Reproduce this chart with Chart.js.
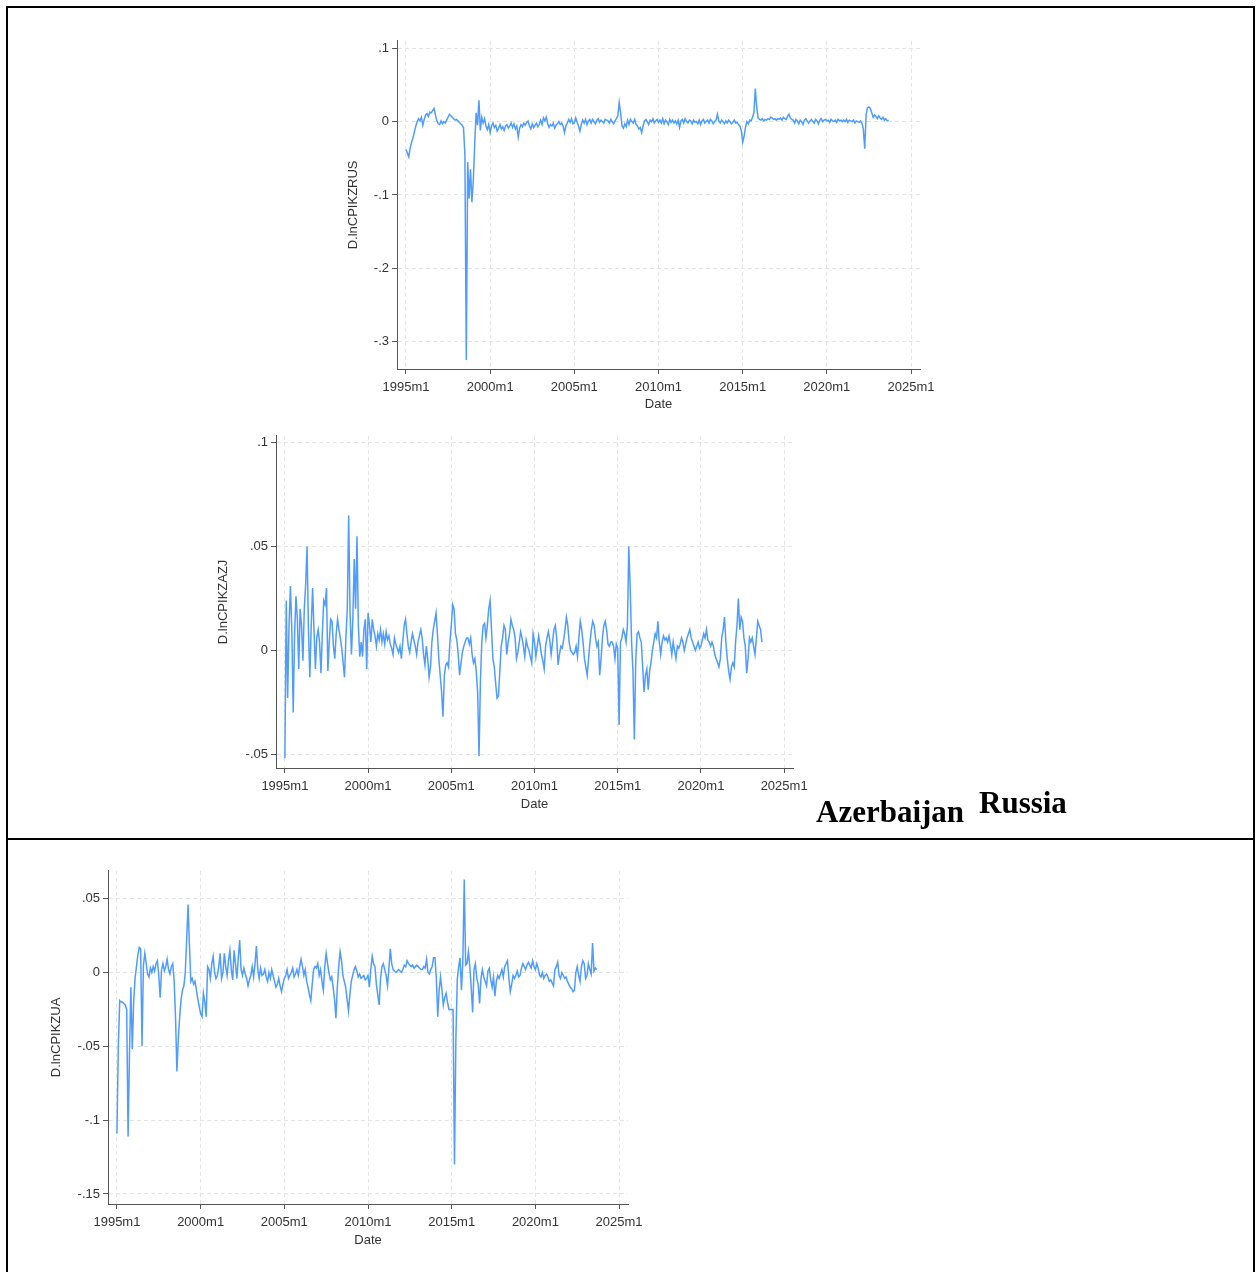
<!DOCTYPE html>
<html>
<head>
<meta charset="utf-8">
<script src="https://cdn.jsdelivr.net/npm/chart.js@4.4.1/dist/chart.umd.min.js"></script>
<style>
body { margin: 0; background: #fff; width: 1257px; height: 1272px; position: relative; overflow: hidden; }
.frame { position: absolute; left: 6px; top: 6px; width: 1245px; height: 1290px; border: 2px solid #000; border-bottom: none; }
.rule { position: absolute; left: 6px; top: 838px; width: 1249px; height: 2px; background: #000; }
.box { position: absolute; }
.lbl { position: absolute; font-family: "Liberation Serif", "Times New Roman", serif; font-weight: bold; font-size: 31px; line-height: 1; color: #000; white-space: nowrap; }
</style>
</head>
<body>
<div class="frame"></div>
<div class="rule"></div>
<canvas id="cRus" class="box" width="620" height="390" style="left:330px;top:30px"></canvas>
<canvas id="cAzj" class="box" width="618" height="395" style="left:205px;top:425px"></canvas>
<canvas id="cUa" class="box" width="618" height="396" style="left:40px;top:860px"></canvas>
<div class="lbl" style="left:816px;top:796px">Azerbaijan</div>
<div class="lbl" style="left:979px;top:787px">Russia</div>

<script>
// x axis: months since 1995m1
const tickMonths = [0, 60, 120, 180, 240, 300, 360];
const tickLabels = ['1995m1', '2000m1', '2005m1', '2010m1', '2015m1', '2020m1', '2025m1'];

// D.lnCPIKZRUS, monthly 1995m1..2023m9
const rusY = [
  -0.038,-0.043,-0.048,-0.036,-0.028,-0.022,-0.014,-0.006,0.000,0.004,0.001,0.006,
  -0.005,0.003,0.009,0.011,0.007,0.013,0.012,0.015,0.018,0.009,0.001,-0.003,
  -0.004,0.001,-0.003,0.000,-0.002,0.002,0.006,0.010,0.008,0.006,0.004,0.002,
  0.003,0.001,-0.001,-0.003,-0.005,-0.008,-0.045,-0.325,-0.055,-0.105,-0.065,-0.110,
  -0.080,-0.030,0.012,-0.005,0.029,-0.012,0.006,-0.002,0.004,-0.006,-0.011,-0.004,
  -0.015,-0.006,-0.002,-0.008,-0.005,-0.013,-0.009,-0.004,-0.010,-0.007,-0.012,-0.006,
  -0.004,-0.009,-0.006,-0.002,-0.008,-0.003,-0.010,-0.006,-0.021,-0.009,-0.004,-0.007,
  -0.002,-0.005,-0.001,0.001,-0.006,-0.010,-0.003,-0.008,-0.005,-0.002,-0.007,-0.004,
  0.002,-0.004,0.005,0.001,0.006,-0.003,-0.008,-0.004,-0.006,-0.002,-0.009,-0.005,
  -0.003,0.000,-0.004,-0.002,-0.006,-0.015,-0.006,-0.002,0.003,-0.001,0.004,-0.003,
  -0.002,0.005,-0.001,-0.006,-0.013,-0.004,0.002,-0.002,0.003,-0.004,0.001,0.003,
  -0.002,0.003,0.000,-0.003,0.002,0.004,-0.001,0.002,0.000,-0.002,0.003,0.002,
  0.001,-0.002,0.003,0.000,-0.003,0.001,0.004,0.008,0.026,0.012,-0.006,-0.009,
  -0.003,-0.007,0.002,-0.004,0.003,0.000,-0.002,0.003,-0.004,-0.006,-0.010,-0.008,
  -0.015,-0.006,0.001,0.003,0.000,-0.004,0.002,0.000,0.004,-0.002,0.001,0.003,
  -0.001,0.002,-0.002,0.004,-0.003,0.002,0.000,-0.004,0.003,-0.001,0.002,-0.002,
  0.001,-0.003,0.002,-0.008,0.001,0.003,-0.002,0.004,0.000,-0.002,0.002,0.001,
  -0.003,0.002,-0.001,0.000,-0.003,0.002,-0.004,0.001,0.003,-0.002,0.000,0.002,
  -0.002,0.003,0.001,-0.003,0.000,0.002,0.010,0.001,-0.002,0.002,0.000,-0.003,
  0.001,-0.002,0.002,0.000,-0.003,-0.001,0.002,-0.002,-0.001,-0.004,-0.006,-0.012,
  -0.028,-0.020,-0.008,0.000,-0.003,0.002,0.001,0.006,0.012,0.045,0.020,0.005,
  0.003,0.002,0.004,0.001,0.003,0.002,0.004,0.003,0.006,0.005,0.003,0.004,
  0.002,0.004,0.003,0.005,0.002,0.006,0.004,0.003,0.007,0.010,0.005,0.003,
  0.002,-0.002,0.003,0.001,-0.003,0.002,0.000,-0.004,0.002,0.004,0.001,-0.002,
  0.001,0.003,0.000,-0.002,0.003,0.001,-0.003,0.002,0.004,0.000,0.002,0.003,
  0.001,0.002,-0.001,0.003,0.001,0.000,0.002,-0.001,0.003,0.001,0.002,0.000,
  0.002,0.000,0.003,-0.001,0.002,0.001,0.000,0.002,-0.002,0.001,0.000,-0.001,
  0.001,-0.002,-0.010,-0.037,0.010,0.019,0.020,0.018,0.012,0.006,0.009,0.007,
  0.004,0.008,0.005,0.003,0.006,0.002,0.004,0.001,0.002
];

// D.lnCPIKZAZJ
const azjY = [
  -0.052,0.024,-0.023,0.012,0.031,0.010,-0.030,0.008,0.026,0.015,-0.009,0.020,
  0.012,-0.005,0.020,0.032,0.050,0.010,-0.013,0.012,0.030,0.010,-0.009,0.006,
  0.010,0.004,-0.011,0.008,0.024,0.022,0.030,-0.010,0.004,0.015,0.014,0.002,
  -0.004,0.008,0.015,0.010,0.006,0.001,-0.006,-0.013,0.006,0.020,0.065,0.018,
  -0.002,0.015,0.044,0.020,0.055,0.012,-0.003,0.004,-0.003,0.010,0.015,-0.009,
  0.018,0.012,0.004,0.015,0.010,0.007,0.002,0.008,0.005,0.010,0.004,0.008,
  0.003,0.009,0.005,0.007,0.003,0.001,-0.002,0.006,0.003,0.001,-0.001,0.002,
  -0.004,0.004,0.012,0.015,0.008,0.002,-0.001,0.004,0.008,0.005,0.002,-0.002,
  0.004,0.007,0.010,0.006,-0.002,-0.007,0.002,-0.004,-0.013,-0.008,0.004,0.010,
  0.014,0.018,0.008,-0.004,-0.012,-0.020,-0.032,-0.012,-0.007,-0.006,-0.008,0.004,
  0.012,0.022,0.020,0.008,0.005,-0.002,-0.012,-0.006,-0.001,0.002,0.004,0.006,
  0.006,0.003,0.006,-0.002,-0.006,-0.004,-0.010,-0.020,-0.051,-0.015,0.004,0.012,
  0.013,0.006,0.012,0.020,0.024,0.010,-0.004,-0.008,-0.016,-0.023,-0.022,-0.010,
  0.002,0.006,0.012,0.010,-0.002,0.004,0.008,0.015,0.012,0.010,0.006,-0.004,
  -0.001,0.004,0.009,0.006,0.002,-0.003,0.005,0.002,0.000,-0.003,-0.006,0.008,
  0.004,-0.003,0.002,0.007,0.003,-0.002,-0.005,-0.009,0.002,0.006,0.009,0.005,
  -0.002,0.004,0.010,0.012,0.006,-0.007,-0.002,0.002,0.001,0.005,0.010,0.016,
  0.012,0.004,0.000,-0.001,-0.002,-0.001,0.002,-0.003,0.006,0.014,0.010,0.004,
  -0.004,-0.008,-0.012,-0.004,0.004,0.010,0.014,0.012,0.006,0.002,0.004,-0.012,
  -0.004,0.006,0.012,0.014,0.010,0.003,0.002,0.004,0.004,0.002,-0.004,0.003,
  0.001,-0.036,0.004,0.006,0.010,0.008,0.004,0.012,0.050,0.030,0.004,-0.010,
  -0.043,-0.005,0.008,0.009,0.006,0.004,-0.008,-0.020,-0.012,-0.009,-0.019,-0.010,
  -0.006,0.000,0.004,0.008,0.006,0.014,0.004,-0.002,0.004,0.007,0.005,0.006,
  0.004,0.007,0.003,-0.002,0.004,0.000,-0.004,0.002,0.001,0.003,0.006,0.004,
  0.000,0.003,0.006,0.008,0.010,0.006,0.004,0.002,0.000,0.002,0.004,0.001,
  0.002,0.005,0.008,0.006,0.010,0.005,0.004,0.002,0.004,0.002,-0.002,-0.004,
  -0.006,-0.008,-0.004,0.006,0.010,0.016,0.004,-0.004,-0.010,-0.014,-0.008,-0.006,
  -0.008,0.004,0.012,0.025,0.010,0.016,0.014,0.006,0.002,-0.011,-0.004,0.006,
  0.004,0.006,0.002,-0.002,0.006,0.014,0.012,0.010,0.004
];

// D.lnCPIKZUA
const uaY = [
  -0.109,-0.050,-0.019,-0.020,-0.020,-0.021,-0.022,-0.025,-0.111,-0.055,-0.010,-0.052,
  -0.020,-0.004,0.004,0.012,0.017,0.016,-0.050,0.005,0.013,0.006,-0.001,-0.003,
  0.003,0.000,0.004,0.001,0.006,0.008,-0.002,-0.017,0.002,0.006,0.001,0.004,
  0.009,0.002,-0.001,0.004,0.006,-0.005,-0.030,-0.067,-0.045,-0.030,-0.018,-0.012,
  -0.009,0.000,0.022,0.046,0.018,-0.006,-0.004,-0.008,-0.006,-0.012,-0.018,-0.023,
  -0.028,-0.030,-0.014,-0.020,-0.030,0.004,0.002,-0.004,0.006,0.011,0.000,-0.004,
  -0.002,0.004,0.013,-0.004,0.000,0.013,0.004,-0.002,0.008,0.015,0.002,-0.005,
  0.015,0.006,-0.004,0.010,0.022,0.002,-0.002,0.003,-0.001,-0.004,-0.009,-0.005,
  -0.002,0.004,-0.003,0.006,0.018,0.002,-0.004,0.003,-0.002,-0.001,0.002,-0.003,
  -0.006,0.000,-0.004,0.002,-0.002,-0.006,-0.010,-0.008,-0.004,-0.009,-0.013,-0.008,
  -0.004,-0.002,0.002,-0.004,-0.002,0.000,0.003,-0.003,-0.001,0.002,-0.002,0.004,
  0.009,0.004,-0.002,0.002,-0.006,-0.010,-0.015,-0.019,-0.008,0.002,0.004,0.003,
  0.006,-0.002,0.002,-0.006,-0.012,0.004,0.013,0.006,0.000,-0.005,-0.003,-0.010,
  -0.018,-0.031,-0.010,0.004,0.014,0.008,-0.002,-0.006,-0.010,-0.018,-0.026,-0.015,
  -0.006,-0.002,0.002,0.004,0.001,-0.003,-0.001,-0.004,-0.003,-0.002,-0.005,-0.004,
  -0.002,-0.010,0.002,0.011,0.006,0.004,-0.008,-0.015,-0.022,-0.004,0.004,0.006,
  0.002,-0.002,-0.009,0.003,0.016,0.006,0.002,0.001,0.000,0.001,0.002,0.001,
  0.000,0.002,0.005,0.004,0.008,0.006,0.005,0.004,0.005,0.003,0.004,0.005,
  0.004,0.003,0.002,0.002,0.004,0.003,0.009,0.000,-0.001,0.002,0.004,0.010,
  0.010,-0.004,-0.030,-0.012,-0.003,-0.012,-0.022,-0.017,-0.014,-0.020,-0.025,-0.025,
  -0.025,-0.025,-0.130,-0.045,-0.005,0.004,0.010,-0.012,0.008,0.063,0.005,0.006,
  0.014,0.004,-0.010,-0.027,0.002,0.006,-0.004,-0.008,-0.021,-0.004,0.002,-0.003,
  -0.006,-0.009,0.001,0.003,-0.005,-0.010,-0.003,-0.016,-0.006,-0.002,-0.004,-0.001,
  0.002,-0.003,0.004,0.006,0.008,-0.004,-0.013,-0.008,-0.002,-0.004,-0.002,0.001,
  -0.003,-0.002,0.003,0.006,0.004,0.002,0.005,0.007,0.005,0.003,0.008,0.004,
  0.002,0.006,0.003,-0.002,-0.003,0.000,-0.004,-0.002,-0.001,-0.003,-0.006,-0.005,
  -0.007,-0.009,0.002,0.004,0.007,-0.002,-0.004,0.000,-0.002,-0.004,-0.003,-0.006,
  -0.008,-0.010,-0.011,-0.013,-0.012,0.000,0.004,-0.002,-0.006,0.004,0.008,0.006,
  -0.004,-0.002,0.006,0.002,-0.001,0.020,0.001,0.003,0.002
];

const rusTicks = [-0.3, -0.2, -0.1, 0, 0.1];
const azjTicks = [-0.05, 0, 0.05, 0.1];
const uaTicks = [-0.15, -0.1, -0.05, 0, 0.05];

const fontTick = { family: '"Liberation Sans", Arial, sans-serif', size: 13 };
const axisGrey = '#555';

// Stata style labels: .1, -.05, 0
function stataNum(v) {
  return String(+v.toFixed(3)).replace('0.', '.');
}

function drawPanel(id, values, yTicks, yMin, yMax, yTitle, yWidth, xHeight, yTitlePad, xTitlePad) {
  const pts = values.map((v, i) => ({ x: i, y: v }));
  new Chart(document.getElementById(id), {
    type: 'line',
    data: { datasets: [{ data: pts, borderColor: '#4f9cff', borderWidth: 1.5, pointRadius: 0, tension: 0, fill: false }] },
    options: {
      responsive: false,
      animation: false,
      events: [],
      layout: { padding: { left: 0, top: 10, right: 30, bottom: 0 } },
      plugins: { legend: { display: false }, tooltip: { enabled: false } },
      scales: {
        x: {
          type: 'linear', min: -6.4, max: 366.4,
          afterBuildTicks: ax => { ax.ticks = tickMonths.map(v => ({ value: v })); },
          afterFit: ax => { ax.height = xHeight; },
          ticks: { autoSkip: false, maxRotation: 0, padding: 6, color: '#333', font: fontTick,
                   callback: v => tickLabels[tickMonths.indexOf(v)] },
          grid: { color: '#e4e4e4', tickColor: axisGrey, tickLength: 5 },
          border: { color: axisGrey, width: 1, dash: [4, 3] },
          title: { display: true, text: 'Date', color: '#333', font: fontTick, padding: { top: 0, bottom: xTitlePad } }
        },
        y: {
          min: yMin, max: yMax,
          afterBuildTicks: ax => { ax.ticks = yTicks.map(v => ({ value: v })); },
          afterFit: ax => { ax.width = yWidth; },
          ticks: { padding: 3, color: '#333', font: fontTick, callback: v => stataNum(v) },
          grid: { color: '#e4e4e4', tickColor: axisGrey, tickLength: 5 },
          border: { color: axisGrey, width: 1, dash: [4, 3] },
          title: { display: true, text: yTitle, color: '#333', font: fontTick, padding: { top: yTitlePad, bottom: 0 } }
        }
      }
    }
  });
}

drawPanel('cRus', rusY, rusTicks, -0.3374, 0.1102, 'D.lnCPIKZRUS', 67, 51, 16, 8);
drawPanel('cAzj', azjY, azjTicks, -0.0567, 0.1034, 'D.lnCPIKZAZJ', 71, 52, 11, 8);
drawPanel('cUa', uaY, uaTicks, -0.1568, 0.0689, 'D.lnCPIKZUA', 68, 52, 9, 8);
</script>
</body>
</html>
